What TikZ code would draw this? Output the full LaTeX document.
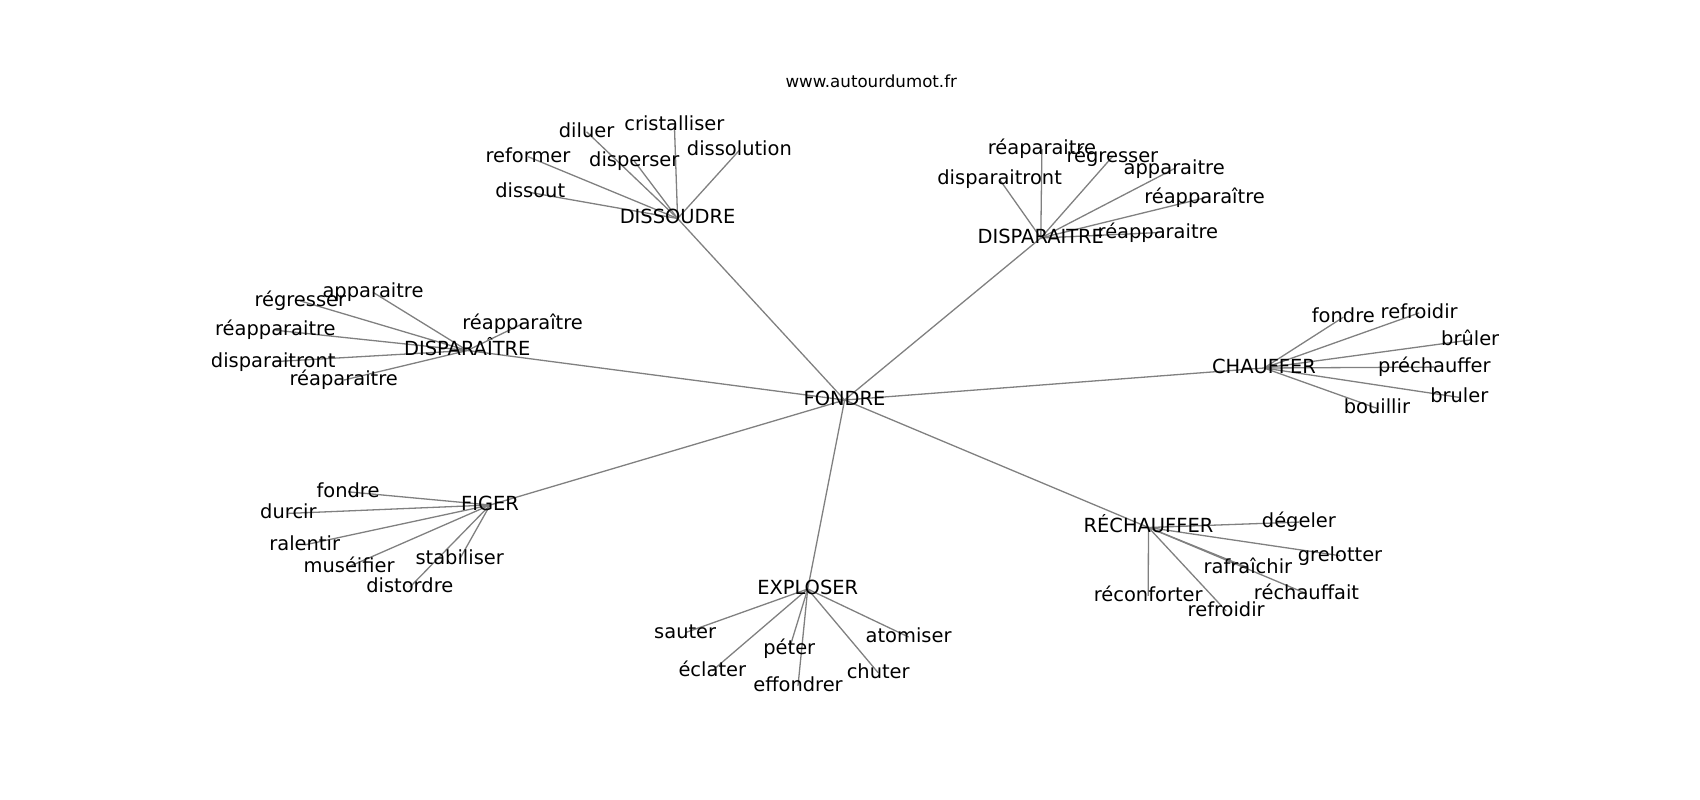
\documentclass[tikz,border=0pt]{standalone}
\usepackage{fontspec}
\setmainfont{DejaVu Sans}
\begin{document}
\begin{tikzpicture}[x=1pt,y=-1pt,
  edge/.style={draw=gray, line width=1.3pt},
  lbl/.style={font=\fontsize{19.44}{23}\selectfont, inner sep=0pt, anchor=base, yshift=-5.4pt},
  ttl/.style={font=\fontsize{16.67}{20}\selectfont, inner sep=0pt, anchor=base}]
\useasboundingbox (0,0) rectangle (1700,800);
% hubs
\coordinate (F) at (844.6,400);
\coordinate (D) at (677.6,218.5);
\coordinate (A) at (1040.8,238);
\coordinate (B) at (467.3,350.5);
\coordinate (C) at (1264,368);
\coordinate (G) at (490.1,505);
\coordinate (E) at (807.7,589);
\coordinate (R) at (1148.5,527.5);
% leaves
\begin{scope}[yshift=-1.7pt]
\coordinate (D1) at (528.0,155.0);
\coordinate (D2) at (586.6,130.1);
\coordinate (D3) at (674.4,123.6);
\coordinate (D4) at (634.3,159.4);
\coordinate (D5) at (739.4,148.5);
\coordinate (D6) at (530.2,190.8);
\coordinate (A1) at (1041.9,147.5);
\coordinate (A2) at (1112.4,155.0);
\coordinate (A3) at (1174.2,167.0);
\coordinate (A4) at (999.6,177.8);
\coordinate (A5) at (1204.5,196.2);
\coordinate (A6) at (1157.9,230.9);
\coordinate (B1) at (373.0,290.6);
\coordinate (B2) at (300.3,299.2);
\coordinate (B3) at (275.4,328.5);
\coordinate (B4) at (522.6,322.0);
\coordinate (B5) at (273.2,360.0);
\coordinate (B6) at (343.7,378.4);
\coordinate (C1) at (1343.3,315.5);
\coordinate (C2) at (1419.2,311.2);
\coordinate (C3) at (1470.2,338.3);
\coordinate (C4) at (1434.4,365.4);
\coordinate (C5) at (1459.3,395.7);
\coordinate (C6) at (1376.9,406.6);
\coordinate (G1) at (348.0,490.1);
\coordinate (G2) at (288.4,511.7);
\coordinate (G3) at (304.7,543.2);
\coordinate (G4) at (349.1,564.9);
\coordinate (G5) at (459.7,557.3);
\coordinate (G6) at (409.8,585.5);
\coordinate (E1) at (685.2,631.0);
\coordinate (E2) at (712.3,669.0);
\coordinate (E3) at (789.3,647.3);
\coordinate (E4) at (798.0,684.1);
\coordinate (E5) at (878.2,671.1);
\coordinate (E6) at (908.6,635.3);
\coordinate (R1) at (1298.9,520.4);
\coordinate (R2) at (1340.0,554.0);
\coordinate (R3) at (1247.9,566.0);
\coordinate (R4) at (1306.5,592.0);
\coordinate (R5) at (1148.2,594.1);
\coordinate (R6) at (1226.2,609.3);
\end{scope}
% edges
\foreach \h in {D,A,B,C,G,E,R} {\draw[edge] (F) -- (\h);}
\foreach \h in {D,A,B,C,G,E,R} {
  \foreach \i in {1,...,6} {\draw[edge] (\h) -- (\h\i);}
}
% title
\node[ttl] (title) at (871.25,87.7) {www.autourdumot.fr};
% labels (clipped to the axes area)
\begin{scope}
\clip (212.5,96) rectangle (1530,712);
\node[lbl] (lF) at (F) {FONDRE};
\node[lbl] (lD) at (D) {DISSOUDRE};
\node[lbl] (lD1) at (D1) {reformer};
\node[lbl] (lD2) at (D2) {diluer};
\node[lbl] (lD3) at (D3) {cristalliser};
\node[lbl] (lD4) at (D4) {disperser};
\node[lbl] (lD5) at (D5) {dissolution};
\node[lbl] (lD6) at (D6) {dissout};
\node[lbl] (lA) at (A) {DISPARAITRE};
\node[lbl] (lA1) at (A1) {réaparaitre};
\node[lbl] (lA2) at (A2) {régresser};
\node[lbl] (lA3) at (A3) {apparaitre};
\node[lbl] (lA4) at (A4) {disparaitront};
\node[lbl] (lA5) at (A5) {réapparaître};
\node[lbl] (lA6) at (A6) {réapparaitre};
\node[lbl] (lB) at (B) {DISPARAÎTRE};
\node[lbl] (lB1) at (B1) {apparaitre};
\node[lbl] (lB2) at (B2) {régresser};
\node[lbl] (lB3) at (B3) {réapparaitre};
\node[lbl] (lB4) at (B4) {réapparaître};
\node[lbl] (lB5) at (B5) {disparaitront};
\node[lbl] (lB6) at (B6) {réaparaitre};
\node[lbl] (lC) at (C) {CHAUFFER};
\node[lbl] (lC1) at (C1) {fondre};
\node[lbl] (lC2) at (C2) {refroidir};
\node[lbl] (lC3) at (C3) {brûler};
\node[lbl] (lC4) at (C4) {préchauffer};
\node[lbl] (lC5) at (C5) {bruler};
\node[lbl] (lC6) at (C6) {bouillir};
\node[lbl] (lG) at (G) {FIGER};
\node[lbl] (lG1) at (G1) {fondre};
\node[lbl] (lG2) at (G2) {durcir};
\node[lbl] (lG3) at (G3) {ralentir};
\node[lbl] (lG4) at (G4) {muséifier};
\node[lbl] (lG5) at (G5) {stabiliser};
\node[lbl] (lG6) at (G6) {distordre};
\node[lbl] (lE) at (E) {EXPLOSER};
\node[lbl] (lE1) at (E1) {sauter};
\node[lbl] (lE2) at (E2) {éclater};
\node[lbl] (lE3) at (E3) {péter};
\node[lbl] (lE4) at (E4) {effondrer};
\node[lbl] (lE5) at (E5) {chuter};
\node[lbl] (lE6) at (E6) {atomiser};
\node[lbl] (lR) at (R) {RÉCHAUFFER};
\node[lbl] (lR1) at (R1) {dégeler};
\node[lbl] (lR2) at (R2) {grelotter};
\node[lbl] (lR3) at (R3) {rafraîchir};
\node[lbl] (lR4) at (R4) {réchauffait};
\node[lbl] (lR5) at (R5) {réconforter};
\node[lbl] (lR6) at (R6) {refroidir};
\end{scope}
\end{tikzpicture}
\end{document}
